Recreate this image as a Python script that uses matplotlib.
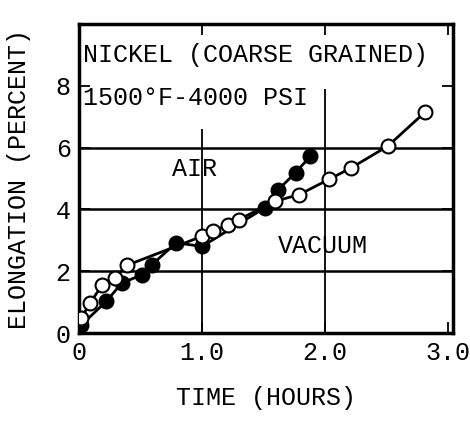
import matplotlib
matplotlib.use('Agg')
import matplotlib.pyplot as plt

plt.rcParams['font.family'] = ['Liberation Mono', 'DejaVu Sans Mono']

# vacuum (open circles)
vac_t = [0.02, 0.09, 0.19, 0.29, 0.39, 1.00, 1.09, 1.21, 1.30, 1.59, 1.79, 2.03, 2.21, 2.51, 2.81]
vac_e = [0.49, 0.97, 1.56, 1.79, 2.19, 3.13, 3.29, 3.50, 3.67, 4.26, 4.48, 4.97, 5.34, 6.05, 7.14]
# air (filled circles)
air_t = [0.02, 0.22, 0.35, 0.51, 0.59, 0.79, 1.00, 1.51, 1.62, 1.76, 1.88]
air_e = [0.26, 1.02, 1.62, 1.88, 2.20, 2.92, 2.80, 4.05, 4.64, 5.19, 5.72]

xticks = [0, 1, 2, 3]
xlabels = ['0', '1.0', '2.0', '3.0']
yticks = [0, 2, 4, 6, 8]

fig = plt.figure(figsize=(4.7, 4.21), dpi=100)
ax = fig.add_axes([0.168, 0.209, 0.796, 0.734])
ax.set_xlim(0, 3.04)
ax.set_ylim(0, 10)

# grid lines
for yy in [2, 4, 6]:
    ax.axhline(yy, color='black', lw=1.8, zorder=1)
ax.vlines(1, 0, 6.6, color='black', lw=1.3, zorder=1)
ax.vlines(2, 0, 7.9, color='black', lw=1.3, zorder=1)

ax.plot(air_t, air_e, '-', color='black', lw=2, marker='o', ms=10,
        mfc='black', mec='black', mew=1.5, zorder=3)
ax.plot(vac_t, vac_e, '-', color='black', lw=2, marker='o', ms=10,
        mfc='white', mec='black', mew=1.5, zorder=4)

fs = 18
ax.text(0.03, 9.0, 'NICKEL (COARSE GRAINED)', fontsize=fs, va='center', ha='left')
ax.text(0.03, 7.6, '1500°F-4000 PSI', fontsize=fs, va='center', ha='left')
ax.text(0.94, 5.3, 'AIR', fontsize=fs, va='center', ha='center')
ax.text(1.98, 2.8, 'VACUUM', fontsize=fs, va='center', ha='center')

ax.set_xticks(xticks)
ax.set_xticklabels(xlabels, fontsize=fs)
ax.set_yticks(yticks)
ax.set_yticklabels([str(v) for v in yticks], fontsize=fs)
ax.tick_params(direction='in', length=8, width=1.3, top=True, right=True, pad=6)
ax.set_xlabel('TIME (HOURS)', fontsize=fs, labelpad=15)
ax.set_ylabel('ELONGATION (PERCENT)', fontsize=fs, labelpad=18)

for s in ax.spines.values():
    s.set_linewidth(2.5)

fig.savefig('out.png', dpi=100)
